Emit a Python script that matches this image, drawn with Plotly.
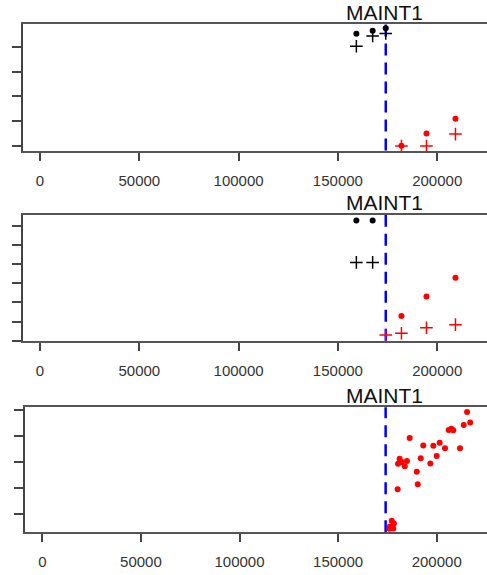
import plotly.graph_objects as go

# ---- data ----
MAINT_LABEL = "MAINT1"
MAINT_X = 174100
X_TICKS = [0, 50000, 100000, 150000, 200000]

# panel 1
p1_black_x = [159300, 167500, 174100]
p1_black_dot_y = [4.53, 4.65, 4.75]
p1_black_plus_y = [4.02, 4.44, 4.54]
p1_red_x = [182000, 194600, 209200]
p1_red_dot_y = [0.01, 0.50, 1.10]
p1_red_plus_y = [0.0, 0.0, 0.48]
p1_yticks = [0, 1, 2, 3, 4]

# panel 2
p2_black_x = [159300, 167500]
p2_black_dot_y = [6.29, 6.29]
p2_black_plus_y = [4.10, 4.10]
p2_red_dot_x = [182000, 194600, 209200]
p2_red_dot_y = [1.29, 2.32, 3.30]
p2_red_plus_x = [174100, 182000, 194600, 209200]
p2_red_plus_y = [0.30, 0.39, 0.68, 0.84]
p2_yticks = [0, 1, 2, 3, 4, 5, 6]

# panel 3
p3_red_x = [215400, 217000, 213700, 206100, 207400, 208400, 186300, 193200,
            198300, 201500, 204200, 211800, 200000, 191900, 196800, 181200,
            180400, 182300, 184900, 183800, 189900, 190400, 180200, 177200,
            178300, 176300, 178000, 176000]
p3_red_y = [3.92, 3.52, 3.42, 3.23, 3.28, 3.22, 2.92, 2.64,
            2.63, 2.74, 2.53, 2.53, 2.23, 2.15, 1.95, 2.13,
            1.94, 2.00, 2.04, 1.84, 1.63, 1.15, 0.96, -0.25,
            -0.35, -0.47, -0.54, -0.55]
p3_yticks = [0, 1, 2, 3, 4]

# ---- layout helpers ----
W, H = 487, 575
BLACK = "#000000"
RED = "#ff0000"
BLUE = "#0000ff"
AXCOL = "#555555"


def xr(px_left, px_zero, px_per_50k):
    lo = (px_left - px_zero) / px_per_50k * 50000
    hi = (W - px_zero) / px_per_50k * 50000
    return [lo, hi]


panels = [
    dict(left=23.3, x0=40.0, k=99.3, top=24, bottom=150.5, yr=[-0.181, 4.919], yt=p1_yticks, ty=12.3),
    dict(left=23.3, x0=40.0, k=99.3, top=215, bottom=340.7, yr=[0, 6.58], yt=p2_yticks, ty=202.5),
    dict(left=25.0, x0=42.3, k=98.6, top=407.3, bottom=532.3, yr=[-0.69, 4.10], yt=p3_yticks, ty=395.3),
]

fig = go.Figure()

dot = dict(symbol="circle", size=6)


def plus(c):
    return dict(symbol="cross-thin", size=9, line=dict(color=c, width=1.5), color=c)


series = [
    [
        (p1_black_x, p1_black_dot_y, dict(dot, color=BLACK)),
        (p1_black_x, p1_black_plus_y, plus(BLACK)),
        (p1_red_x, p1_red_dot_y, dict(dot, color=RED)),
        (p1_red_x, p1_red_plus_y, plus(RED)),
    ],
    [
        (p2_black_x, p2_black_dot_y, dict(dot, color=BLACK)),
        (p2_black_x, p2_black_plus_y, plus(BLACK)),
        (p2_red_dot_x, p2_red_dot_y, dict(dot, color=RED)),
        (p2_red_plus_x, p2_red_plus_y, plus(RED)),
    ],
    [
        (p3_red_x, p3_red_y, dict(dot, color=RED)),
    ],
]

for i, (p, ss) in enumerate(zip(panels, series), start=1):
    xa = "x" if i == 1 else f"x{i}"
    ya = "y" if i == 1 else f"y{i}"
    for xs, ys, mk in ss:
        fig.add_trace(go.Scatter(x=xs, y=ys, mode="markers", marker=mk,
                                 xaxis=xa, yaxis=ya, showlegend=False,
                                 cliponaxis=False))
    xkey = "xaxis" if i == 1 else f"xaxis{i}"
    ykey = "yaxis" if i == 1 else f"yaxis{i}"
    fig.update_layout(**{
        xkey: dict(domain=[p["left"] / W, 1], range=xr(p["left"], p["x0"], p["k"]),
                   anchor=ya, tickvals=X_TICKS, ticktext=[str(v) for v in X_TICKS],
                   ticks="outside", ticklen=8, tickwidth=1.5, tickcolor="#444444",
                   showline=True, linecolor=AXCOL, linewidth=2, mirror=True,
                   showgrid=False, zeroline=False, ticklabelstandoff=7,
                   tickfont=dict(family="Liberation Sans", size=15, color="#333333")),
        ykey: dict(domain=[1 - p["bottom"] / H, 1 - p["top"] / H], range=p["yr"],
                   anchor=xa, tickvals=p["yt"], showticklabels=False,
                   ticks="outside", ticklen=9, tickwidth=2, tickcolor="#444444",
                   showline=True, linecolor="#444444", linewidth=2,
                   showgrid=False, zeroline=False),
    })
    fig.add_shape(type="line", xref=xa, yref=f"{ya} domain", x0=MAINT_X, x1=MAINT_X,
                  y0=0, y1=1, layer="below",
                  line=dict(color=BLUE, width=2.5, dash="12px,7px"))
    fig.add_annotation(text=MAINT_LABEL, xref=xa, x=MAINT_X, yref="paper",
                       y=1 - p["ty"] / H, xanchor="center", yanchor="middle",
                       showarrow=False, xshift=-1,
                       font=dict(family="Liberation Sans", size=21, color="#111111"))

fig.update_layout(width=W, height=H, margin=dict(l=0, r=0, t=0, b=0),
                  paper_bgcolor="white", plot_bgcolor="white")

fig.write_html("out.html")
